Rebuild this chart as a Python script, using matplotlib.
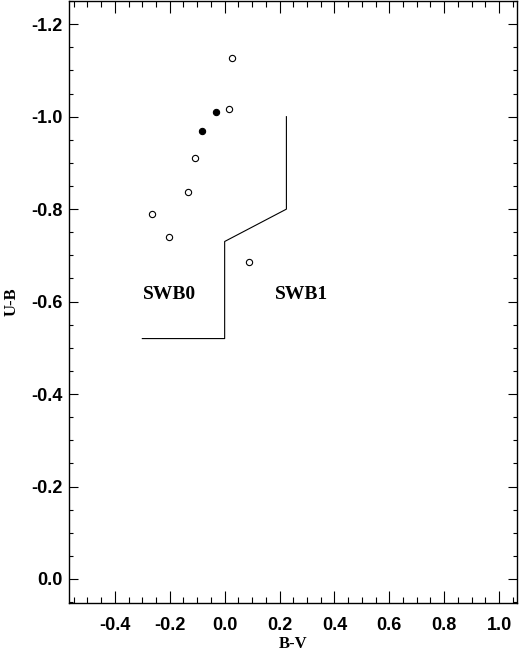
import numpy as np
import matplotlib
matplotlib.use("Agg")
import matplotlib.pyplot as plt
from matplotlib.ticker import MultipleLocator

# open circles (B-V, U-B)
bv_open = [0.028, 0.016, -0.109, -0.135, -0.266, -0.201, 0.087]
ub_open = [-1.126, -1.016, -0.910, -0.838, -0.790, -0.740, -0.685]

# filled circles
bv_fill = [-0.032, -0.083]
ub_fill = [-1.011, -0.969]

# SWB0 / SWB1 boundary
bv_line = [-0.30, 0.0, 0.0, 0.225, 0.225]
ub_line = [-0.52, -0.52, -0.73, -0.80, -1.00]

labels = ["SWB0", "SWB1"]
label_bv = [-0.20, 0.28]
label_ub = [-0.615, -0.615]

fig = plt.figure(figsize=(5.19, 6.5), dpi=100)
ax = fig.add_axes([0.132, 0.0723, 0.864, 0.926])

ax.plot(bv_line, ub_line, color="black", lw=0.8)
ax.plot(bv_open, ub_open, "o", mfc="white", mec="black", ms=4.5, mew=0.8)
ax.plot(bv_fill, ub_fill, "o", mfc="black", mec="black", ms=4.5, mew=0.8)

for t, x, y in zip(labels, label_bv, label_ub):
    ax.text(x, y, t, ha="center", va="center", fontsize=14,
            family="Liberation Serif", fontweight="bold")

ax.set_xlim(-0.569, 1.065)
ax.set_ylim(0.052, -1.25)

ax.xaxis.set_major_locator(MultipleLocator(0.2))
ax.xaxis.set_minor_locator(MultipleLocator(0.05))
ax.yaxis.set_major_locator(MultipleLocator(0.2))
ax.yaxis.set_minor_locator(MultipleLocator(0.05))

ax.tick_params(axis="both", which="both", direction="in", top=True, right=True, width=0.8)
ax.tick_params(axis="x", which="major", length=8.6, pad=10)
ax.tick_params(axis="x", which="minor", length=4.3)
ax.tick_params(axis="y", which="major", length=6.5, pad=4)
ax.tick_params(axis="y", which="minor", length=3.2)

xt = [-0.4, -0.2, 0.0, 0.2, 0.4, 0.6, 0.8, 1.0]
ax.set_xticks(xt)
ax.set_xticklabels(["%.1f" % v for v in xt])
yt = [-1.2, -1.0, -0.8, -0.6, -0.4, -0.2, 0.0]
ax.set_yticks(yt)
ax.set_yticklabels(["%.1f" % v for v in yt])
for lab in ax.get_xticklabels() + ax.get_yticklabels():
    lab.set_family("Liberation Sans")
    lab.set_fontweight("bold")
    lab.set_fontsize(13)

for s in ax.spines.values():
    s.set_linewidth(1.0)

ax.set_xlabel("B-V", family="Liberation Serif", fontweight="bold", fontsize=12)
ax.set_ylabel("U-B", family="Liberation Serif", fontweight="bold", fontsize=12)
ax.xaxis.set_label_coords(0.5, -0.054)
ax.yaxis.set_label_coords(-0.108, 0.5)

fig.savefig("out.png", dpi=100)
